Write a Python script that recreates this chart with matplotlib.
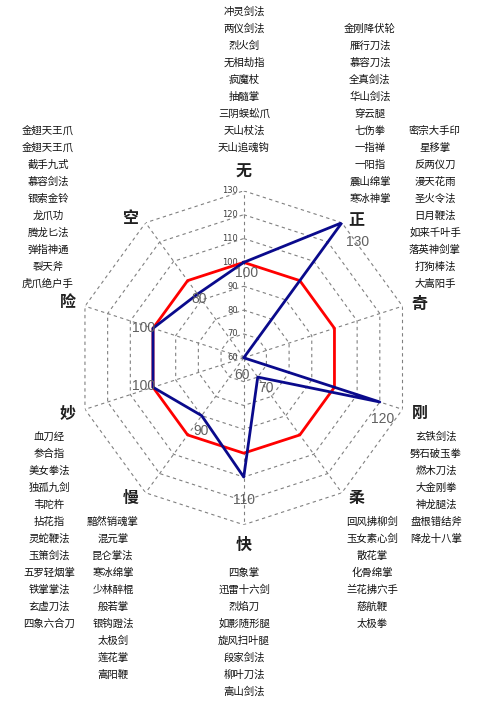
import numpy as np
import matplotlib.pyplot as plt

plt.rcParams['font.family'] = ['Noto Sans CJK SC', 'DejaVu Sans']

# 十个维度（顺时针，从正上方开始）
dims = ['无', '正', '奇', '刚', '柔', '快', '慢', '妙', '险', '空']
base_vals = [100, 100, 100, 100, 100, 100, 100, 100, 100, 100]
hero_vals = [100, 130, 60, 120, 70, 110, 90, 100, 100, 93]
hero_labels = ['100', '130', '60', '120', '70', '110', '90', '100', '100', '80']
ring_ticks = [60, 70, 80, 90, 100, 110, 120, 130]

# 各维度的武功
wu_list = ['冲灵剑法', '两仪剑法', '烈火剑', '无相劫指', '疯魔杖', '抽髓掌',
           '三阴蜈蚣爪', '天山杖法', '天山追魂钩']
zheng_list = ['金刚降伏轮', '雁行刀法', '慕容刀法', '全真剑法', '华山剑法', '穿云腿',
              '七伤拳', '一指禅', '一阳指', '震山绵掌', '寒冰神掌']
qi_list = ['密宗大手印', '星移掌', '反两仪刀', '漫天花雨', '圣火令法', '日月鞭法',
           '如来千叶手', '落英神剑掌', '打狗棒法', '大嵩阳手']
gang_list = ['玄铁剑法', '劈石破玉拳', '燃木刀法', '大金刚拳', '神龙腿法',
             '盘根错结斧', '降龙十八掌']
rou_list = ['回风拂柳剑', '玉女素心剑', '散花掌', '化骨绵掌', '兰花拂穴手',
            '慈航鞭', '太极拳']
kuai_list = ['四象掌', '迅雷十六剑', '烈焰刀', '如影随形腿', '旋风扫叶腿',
             '段家剑法', '柳叶刀法', '嵩山剑法']
man_list = ['黯然销魂掌', '混元掌', '昆仑掌法', '寒冰绵掌', '少林醉棍', '般若掌',
            '银钩蹬法', '太极剑', '莲花掌', '嵩阳鞭']
miao_list = ['血刀经', '参合指', '美女拳法', '独孤九剑', '韦陀杵', '拈花指',
             '灵蛇鞭法', '玉箫剑法', '五罗轻烟掌', '铁掌掌法', '玄虚刀法', '四象六合刀']
xian_list = ['金翅天王爪', '金翅天王爪', '截手九式', '慕容剑法', '银索金铃', '龙爪功',
             '腾龙匕法', '弹指神通', '裂天斧', '虎爪绝户手']

W, H = 486, 712
fig = plt.figure(figsize=(W / 100, H / 100), dpi=100)
ax = fig.add_axes([0.158, 0.263, 0.687, 0.469], projection='polar')
ax.set_theta_zero_location('N')
ax.set_theta_direction(-1)
ax.set_ylim(60, 130)
ax.axis('off')

n = len(dims)
theta = np.linspace(0, 2 * np.pi, n, endpoint=False)
theta_c = np.append(theta, theta[0])

# 十边形网格
for r in ring_ticks[1:]:
    ax.plot(theta_c, [r] * (n + 1), color='#808080', lw=0.8,
            ls=(0, (3, 3)), zorder=1)
for t in theta:
    ax.plot([t, t], [60, 130], color='#808080', lw=0.8, ls=(0, (3, 3)), zorder=1)

for r in ring_ticks:
    ax.annotate(str(r), (0, r), xytext=(-6, 0), textcoords='offset pixels',
                ha='right', va='center', fontsize=6, color='#404040',
                family='DejaVu Sans')

ax.plot(theta_c, base_vals + base_vals[:1], color='#ff0000', lw=2, zorder=3)
ax.plot(theta_c, hero_vals + hero_vals[:1], color='#0a0a8c', lw=2, zorder=4)

label_offsets = [(3, -11), (16, -19), (-2, -17), (3, -17), (8, -11),
                 (0, -23), (-1, -15), (-9, 1), (-9, 0), (2, -5)]
for t, v, s, off in zip(theta, hero_vals, hero_labels, label_offsets):
    ax.annotate(s, (t, v), xytext=off, textcoords='offset pixels',
                ha='center', va='center', fontsize=10, color='#606060',
                family='Liberation Sans', zorder=5)

dim_offsets = [(0, 3), (5, -10), (2, -3), (2, 1), (5, 8),
               (0, -4), (-6, 8), (-2, 1), (-2, -1), (-6, -8)]
for t, d, off in zip(theta, dims, dim_offsets):
    ax.annotate(d, (t, 136.6), xytext=off, textcoords='offset pixels',
                ha='center', va='center', fontsize=11.5, fontweight='bold',
                color='#202020', annotation_clip=False)

# 武功名单
groups = [(wu_list, 244, 12), (zheng_list, 370, 29), (qi_list, 435, 131),
          (xian_list, 48, 131), (gang_list, 436, 437), (rou_list, 372, 522),
          (kuai_list, 244, 573), (man_list, 113, 522), (miao_list, 49, 437)]
for names, x, y0 in groups:
    for i, name in enumerate(names):
        fig.text(x / W, 1 - (y0 + 17 * i) / H, name, ha='center', va='center',
                 fontsize=7.5, color='#111111')

fig.savefig('out.png', dpi=100, facecolor='white')
